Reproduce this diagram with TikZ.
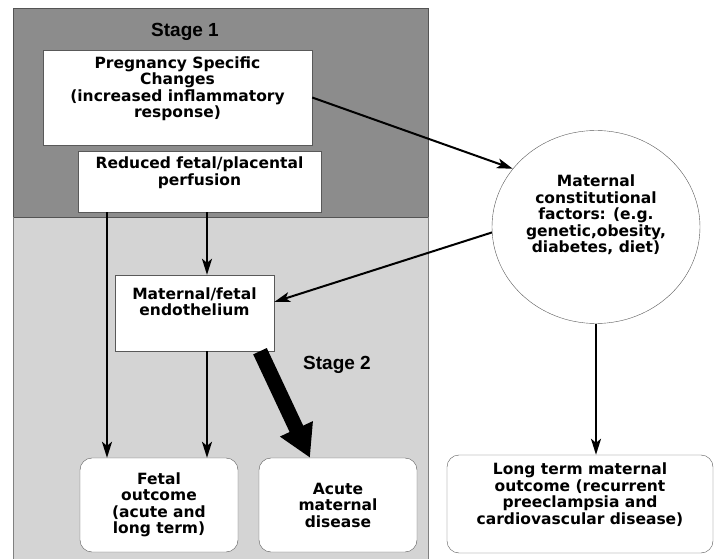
\documentclass[tikz,border=0pt]{standalone}
\usepackage{fontspec}
\setmainfont{DejaVu Sans}
\newfontfamily\stagefont{Liberation Sans}
\usepackage{tikz}
\usetikzlibrary{positioning,arrows.meta,shapes.geometric}

\definecolor{stageone}{gray}{0.55}
\definecolor{stagetwo}{gray}{0.83}

\begin{document}
\begin{tikzpicture}[>={Stealth[length=16pt,width=10pt,inset=4pt]}, x=1pt, y=-1pt,
		box/.style={draw=black!65, fill=white, align=center, inner sep=2pt,
			font=\bfseries\fontsize{15.5}{16.5}\selectfont},
		roundbox/.style={box, rounded corners=12pt},
		stagelabel/.style={font=\stagefont\bfseries\fontsize{19}{21}\selectfont},
		link/.style={->, line width=2pt}]
			
			\useasboundingbox (0,0) rectangle (716,559);
			
			% the two stages
			\fill[stagetwo] (13,217) rectangle (428,559);
			\draw[stageone!60!black, fill=stageone] (13,8) rectangle (428,217);
			\draw[black!50] (13,217) -- (13,559);
			\draw[black!50] (428,217) -- (428,559);
			
			\node[stagelabel] (s1) at (185,32) {Stage 1};
			\node[stagelabel] (s2) at (337,365) {Stage 2};
			
			\node[box, minimum width=269, minimum height=95] (psc) at (177.5,97.5)
				{Pregnancy Specific\\Changes\\(increased inflammatory\\response)\\[4pt]};
			\node[box, minimum width=243, minimum height=61] (red) at (199.5,181.5)
				{Reduced fetal/placental\\perfusion\\[4pt]};
			\node[box, minimum width=159, minimum height=76] (endo) at (194.5,313)
				{Maternal/fetal\\endothelium\\[6pt]};
			\node[ellipse, draw=black!65, fill=white, align=center, inner sep=0pt,
				minimum width=208, minimum height=193,
				font=\bfseries\fontsize{15.5}{16.5}\selectfont] (mcf) at (596,227)
				{Maternal\\constitutional\\factors: (e.g.\\genetic,obesity,\\diabetes, diet)\\[10pt]};
			
			\node[roundbox, minimum width=158, minimum height=94] (fetal) at (159,505)
				{Fetal\\outcome\\(acute and\\long term)};
			\node[roundbox, minimum width=158, minimum height=94] (acute) at (338,505)
				{Acute\\maternal\\disease};
			\node[roundbox, minimum width=266, minimum height=98] (long) at (580,504)
				{Long term maternal\\outcome (recurrent\\preeclampsia and\\cardiovascular disease)\\[4pt]};
			
			\coordinate (c1) at ([xshift=7.5pt]red.south);
			\coordinate (c2) at ([xshift=-92.5pt]red.south);
			
			\draw[link] (psc.east) -- (mcf.145);
			\draw[link] (mcf.183) -- ([yshift=11pt]endo.east);
			\draw[link] (c1) -- (c1 |- endo.north);
			\draw[link] (c2) -- (c2 |- fetal.north);
			\draw[link] (c1 |- endo.south) -- (c1 |- fetal.north);
			\draw[link] (mcf.south) -- (mcf.south |- long.north);
			\draw[-{Triangle[length=32pt,width=34pt]}, line width=15pt]
				([xshift=65.5pt]endo.south) -- ([xshift=-28pt]acute.north);
			
		\end{tikzpicture}
\end{document}
